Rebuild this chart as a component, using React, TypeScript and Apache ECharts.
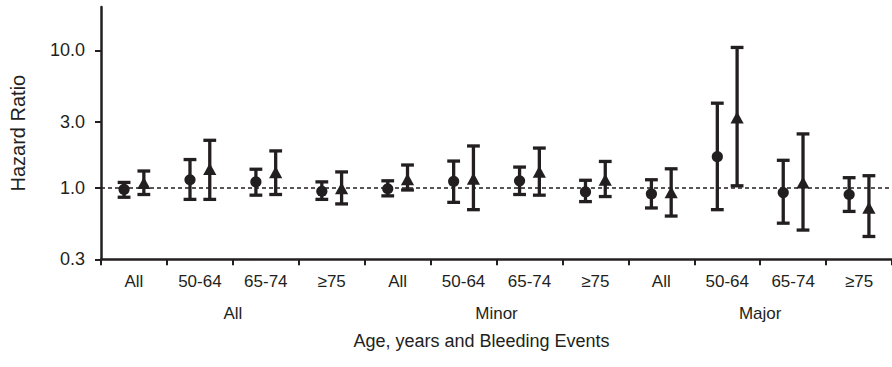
import React, { useEffect, useRef } from "react";
import * as echarts from "echarts";

const ageLabels = ["All", "50-64", "65-74", "≥75", "All", "50-64", "65-74", "≥75", "All", "50-64", "65-74", "≥75"];
const eventGroups = ["All", "Minor", "Major"];
const yTicks = [0.3, 1.0, 3.0, 10.0];

// Circle markers: hazard ratio with lower / upper bound
const circleHR = [0.97, 1.14, 1.10, 0.94, 0.98, 1.11, 1.12, 0.93, 0.90, 1.68, 0.92, 0.89];
const circleLo = [0.85, 0.82, 0.88, 0.82, 0.87, 0.78, 0.89, 0.79, 0.71, 0.69, 0.55, 0.67];
const circleHi = [1.09, 1.60, 1.36, 1.10, 1.12, 1.56, 1.41, 1.13, 1.14, 4.12, 1.58, 1.18];

// Triangle markers
const triHR = [1.06, 1.34, 1.27, 0.97, 1.13, 1.14, 1.28, 1.12, 0.91, 3.19, 1.07, 0.70];
const triLo = [0.89, 0.82, 0.89, 0.76, 0.96, 0.69, 0.88, 0.86, 0.62, 1.03, 0.49, 0.44];
const triHi = [1.32, 2.21, 1.85, 1.30, 1.46, 2.01, 1.94, 1.55, 1.37, 10.5, 2.46, 1.22];

const INK = "#231f20";
const FONT = "'Liberation Sans', Arial, Helvetica, sans-serif";
const lg = (v: number) => Math.log10(v);

function buildData(hr: number[], lo: number[], hi: number[]) {
  return hr.map((v, i) => [i, lg(v), lg(lo[i]), lg(hi[i])]);
}

function makeRender(offset: number, shape: "circle" | "triangle") {
  return (params: any, api: any) => {
    const idx = api.value(0);
    const est = api.value(1);
    const lo = api.value(2);
    const hi = api.value(3);
    const bw = api.size([1, 0])[0];
    const p = api.coord([idx, est]);
    const x = p[0] + offset * bw;
    const y = p[1];
    const yHi = api.coord([idx, hi])[1];
    const yLo = api.coord([idx, lo])[1];
    const cap = 6.4;
    const style = { stroke: INK, lineWidth: 3.3, fill: "none" };
    const children: any[] = [
      { type: "line", shape: { x1: x, y1: yHi, x2: x, y2: yLo }, style },
      { type: "line", shape: { x1: x - cap, y1: yHi, x2: x + cap, y2: yHi }, style },
      { type: "line", shape: { x1: x - cap, y1: yLo, x2: x + cap, y2: yLo }, style },
    ];
    if (shape === "circle") {
      children.push({ type: "circle", shape: { cx: x, cy: y, r: 5.6 }, style: { fill: INK } });
    } else {
      children.push({
        type: "polygon",
        shape: { points: [[x, y - 7], [x + 6.6, y + 5], [x - 6.6, y + 5]] },
        style: { fill: INK },
      });
    }
    return { type: "group", children };
  };
}

export default function App() {
  const ref = useRef<HTMLDivElement>(null);
  useEffect(() => {
    if (!ref.current) return;
    const chart = echarts.init(ref.current, null, { renderer: "svg" });
    const yTickLog = yTicks.map(lg);
    chart.setOption({
      animation: false,
      backgroundColor: "#ffffff",
      textStyle: { fontFamily: FONT, color: INK },
      grid: { left: 100, right: -8, top: 7, bottom: 107.7, containLabel: false },
      xAxis: [
        {
          type: "category",
          data: ageLabels,
          position: "bottom",
          boundaryGap: true,
          axisLine: { show: true, onZero: false, lineStyle: { color: INK, width: 2.5 } },
          axisTick: { show: true, length: 6, alignWithLabel: false, lineStyle: { color: INK, width: 2 } },
          axisLabel: { fontSize: 17, color: INK, margin: 14, fontFamily: FONT, interval: 0 },
          splitLine: { show: false },
          name: "Age, years and Bleeding Events",
          nameLocation: "middle",
          nameGap: 73,
          nameTextStyle: { fontSize: 18, color: INK, fontFamily: FONT, padding: [0, 30, 0, 0] },
        },
        {
          type: "category",
          data: eventGroups,
          position: "bottom",
          offset: 32,
          boundaryGap: true,
          axisLine: { show: false },
          axisTick: { show: false },
          axisLabel: { fontSize: 17, color: INK, margin: 14, fontFamily: FONT, interval: 0 },
          splitLine: { show: false },
        },
      ],
      yAxis: {
        type: "value",
        min: lg(0.3),
        max: lg(20.7),
        axisLine: { show: true, lineStyle: { color: INK, width: 2.5 } },
        axisTick: { show: true, length: 6, customValues: yTickLog, lineStyle: { color: INK, width: 2 } },
        axisLabel: {
          customValues: yTickLog,
          fontSize: 18,
          margin: 16,
          color: INK,
          fontFamily: FONT,
          formatter: (v: number) => {
            let best = yTicks[0];
            yTicks.forEach((t) => {
              if (Math.abs(lg(t) - v) < Math.abs(lg(best) - v)) best = t;
            });
            return best.toFixed(1);
          },
        },
        splitLine: { show: false },
        name: "Hazard Ratio",
        nameLocation: "middle",
        nameGap: 73,
        nameRotate: 90,
        nameTextStyle: { fontSize: 20, color: INK, fontFamily: FONT },
      },
      series: [
        {
          type: "line",
          data: [],
          silent: true,
          markLine: {
            silent: true,
            symbol: ["none", "none"],
            label: { show: false },
            lineStyle: { color: INK, width: 1.6, type: [4, 3] },
            data: [{ yAxis: 0 }],
          },
        },
        {
          type: "custom",
          name: "Circle",
          xAxisIndex: 0,
          renderItem: makeRender(-0.15, "circle"),
          data: buildData(circleHR, circleLo, circleHi),
          encode: { x: 0, y: 1 },
          z: 5,
        },
        {
          type: "custom",
          name: "Triangle",
          xAxisIndex: 0,
          renderItem: makeRender(0.15, "triangle"),
          data: buildData(triHR, triLo, triHi),
          encode: { x: 0, y: 1 },
          z: 5,
        },
      ],
    });
    return () => chart.dispose();
  }, []);
  return (
    <div
      ref={ref}
      style={{ position: "absolute", left: 0, top: 0, width: 892, height: 367 }}
    />
  );
}
